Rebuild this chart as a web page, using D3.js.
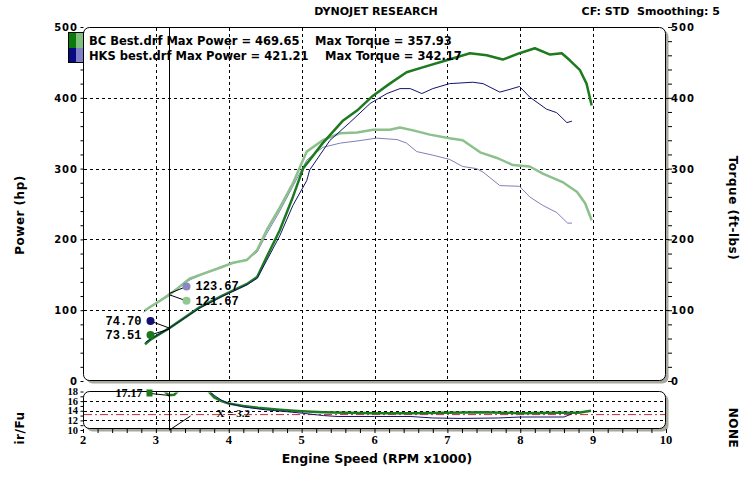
<!DOCTYPE html>
<html lang="en">
<head>
<meta charset="UTF-8">
<title>Dynojet</title>
<script src="https://cdn.jsdelivr.net/npm/d3@7"></script>
<style>
  body { margin: 0; background: #fff; font-family: "DejaVu Sans", Verdana, sans-serif; }
  svg { display: block; }
</style>
</head>
<body>
<div id="chart"></div>
<script>
// ---- data (rpm x1000, hp / ft-lbs / afr) ----
const bcPowerRpm = [2.85, 2.92, 3.19, 3.60, 3.92, 4.25, 4.39, 4.52, 4.70, 4.88, 5.02, 5.29, 5.57, 5.76, 5.98, 6.21, 6.44, 6.66, 6.99, 7.31, 7.54, 7.76, 7.99, 8.20, 8.41, 8.57, 8.68, 8.82, 8.91, 8.98];
const bcPower    = [52, 58, 75, 104, 121, 137, 147, 175, 213, 260, 300, 336, 368, 382, 403, 420, 436, 443, 453, 463, 460, 454, 463, 470, 461, 463, 453, 439, 420, 389];

const bcTorqueRpm = [2.85, 3.19, 3.47, 3.88, 4.06, 4.25, 4.39, 4.52, 4.70, 4.88, 5.07, 5.29, 5.53, 5.76, 5.98, 6.21, 6.35, 6.53, 6.76, 7.03, 7.21, 7.31, 7.45, 7.68, 7.90, 8.13, 8.31, 8.58, 8.78, 8.89, 8.98];
const bcTorque    = [100, 122, 145, 160, 167, 171, 185, 213, 245, 279, 324, 340, 350, 351, 355, 355, 358, 354, 348, 343, 340, 333, 323, 315, 305, 303, 293, 281, 267, 251, 227];

const hksPowerRpm = [2.86, 3.19, 3.60, 3.92, 4.25, 4.39, 4.52, 4.70, 4.88, 5.07, 5.11, 5.39, 5.66, 5.94, 6.17, 6.35, 6.49, 6.65, 6.80, 7.03, 7.35, 7.49, 7.72, 7.86, 7.99, 8.13, 8.36, 8.50, 8.64, 8.71];
const hksPower    = [55, 75, 103, 120, 136, 145, 170, 205, 248, 283, 298, 340, 365, 392, 406, 413, 413, 406, 413, 420, 422, 420, 408, 412, 416, 401, 384, 379, 365, 367];

const hksTorqueRpm = [2.83, 3.19, 3.47, 3.88, 4.25, 4.39, 4.52, 4.70, 4.88, 5.07, 5.29, 5.53, 5.76, 6.03, 6.31, 6.44, 6.58, 6.80, 7.03, 7.21, 7.40, 7.49, 7.72, 7.99, 8.13, 8.31, 8.50, 8.65, 8.71];
const hksTorque    = [97, 124, 143, 161, 172, 182, 208, 240, 275, 312, 330, 336, 339, 343, 341, 336, 324, 319, 313, 303, 300, 295, 276, 275, 260, 248, 238, 223, 223];

const bcAfrRpm = [2.88, 3.10, 3.18, 3.25, 3.32, 3.70, 3.80, 3.90, 4.00, 4.20, 4.40, 4.70, 5.00, 5.30, 5.60, 6.00, 6.50, 7.00, 7.50, 8.00, 8.50, 8.80, 8.97];
const bcAfr    = [18.4, 18.3, 17.2, 17.3, 18.3, 18.4, 16.8, 16.0, 15.5, 15.0, 14.6, 14.2, 13.9, 13.7, 13.6, 13.5, 13.5, 13.6, 13.7, 13.5, 13.6, 13.6, 14.0];

const hksAfrRpm = [2.88, 3.70, 3.80, 3.90, 4.00, 4.20, 4.50, 4.80, 5.00, 5.30, 5.50, 6.00, 6.50, 6.80, 7.20, 7.70, 8.00, 8.60, 8.70];
const hksAfr    = [18.5, 18.5, 17.2, 16.2, 15.5, 14.8, 14.2, 13.8, 13.5, 13.0, 12.8, 12.8, 12.8, 12.5, 12.4, 12.5, 12.7, 12.7, 13.3];

const xTicks = [2, 3, 4, 5, 6, 7, 8, 9, 10];
const yTicks = [0, 100, 200, 300, 400, 500];
const afrTicks = [10, 12, 14, 16, 18];
const afrTarget = 13.2;
const cursorRpm = 3.18;
const cursorVals = { bcPower: 73.51, hksPower: 74.70, bcTorque: 121.67, hksTorque: 123.67, bcAfr: 17.17 };

const colors = { bcPower: "#1e7a1e", bcTorque: "#8cc08c", hksPower: "#14146e", hksTorque: "#8080b8" };

// ---- layout ----
const W = 754, H = 502;
const svg = d3.select("#chart").append("svg").attr("width", W).attr("height", H);

const x = d3.scaleLinear().domain([2, 10]).range([83, 666]);
const y = d3.scaleLinear().domain([0, 500]).range([381, 27]);
const ya = d3.scaleLinear().domain([10, 18]).range([430, 391.5]);

const shadow = "#a8a89e";
const monoBold = "'Liberation Mono', monospace";
const serifBold = "'Liberation Serif', 'Times New Roman', serif";

// header
svg.append("text").attr("x", 376).attr("y", 15).attr("text-anchor", "middle")
  .attr("font-size", 11).attr("font-weight", "bold").text("DYNOJET RESEARCH");
svg.append("text").attr("x", 720).attr("y", 15).attr("text-anchor", "end")
  .attr("font-size", 11).attr("font-weight", "bold").attr("xml:space", "preserve")
  .text("CF: STD  Smoothing: 5");

// boxes with shadow
function panel(x0, y0, x1, y1) {
  svg.append("rect").attr("x", x0 + 3).attr("y", y0 + 3).attr("width", x1 - x0).attr("height", y1 - y0)
    .attr("rx", 6).attr("fill", shadow);
  svg.append("rect").attr("x", x0).attr("y", y0).attr("width", x1 - x0).attr("height", y1 - y0)
    .attr("rx", 6).attr("fill", "#fff").attr("stroke", "#000").attr("stroke-width", 1);
}
panel(83.5, 27.5, 665.5, 380.5);
panel(83.5, 391.5, 665.5, 428.5);

// clip paths
const defs = svg.append("defs");
defs.append("clipPath").attr("id", "clipMain").append("rect")
  .attr("x", 84).attr("y", 28).attr("width", 581).attr("height", 352);
defs.append("clipPath").attr("id", "clipAfr").append("rect")
  .attr("x", 84).attr("y", 392.5).attr("width", 581).attr("height", 35.5);

// grid
const grid = svg.append("g").attr("stroke", "#000").attr("stroke-dasharray", "3,3").attr("stroke-width", 1);
xTicks.slice(1, -1).forEach(t => {
  grid.append("line").attr("x1", Math.round(x(t)) + 0.5).attr("x2", Math.round(x(t)) + 0.5)
    .attr("y1", 28).attr("y2", 380);
  grid.append("line").attr("x1", Math.round(x(t)) + 0.5).attr("x2", Math.round(x(t)) + 0.5)
    .attr("y1", 392).attr("y2", 428);
});
yTicks.slice(1, -1).forEach(t => {
  grid.append("line").attr("y1", Math.round(y(t)) + 0.5).attr("y2", Math.round(y(t)) + 0.5)
    .attr("x1", 84).attr("x2", 671);
});
[12, 14, 16].forEach(t => {
  grid.append("line").attr("y1", Math.round(ya(t)) + 0.5).attr("y2", Math.round(ya(t)) + 0.5)
    .attr("x1", 84).attr("x2", 665);
});

// left / right axes (hp / ft-lbs)
const leftAxis = d3.axisLeft(y).tickValues(d3.range(0, 501, 20)).tickSize(3).tickFormat("");
svg.append("g").attr("transform", "translate(83.5,0)").call(leftAxis)
  .call(g => g.select(".domain").remove());
const rightAxis = d3.axisRight(y).tickValues(d3.range(0, 501, 20)).tickSize(4).tickFormat("");
svg.append("g").attr("transform", "translate(668,0)").call(rightAxis)
  .call(g => g.select(".domain").remove());

svg.append("g").selectAll("text").data(yTicks).join("text")
  .attr("x", 78).attr("y", d => y(d) + 4).attr("text-anchor", "end")
  .attr("font-size", 10).attr("font-weight", "bold").attr("letter-spacing", 1).text(d => d);
svg.append("g").selectAll("text").data(yTicks).join("text")
  .attr("x", 671).attr("y", d => y(d) + 4).attr("text-anchor", "start")
  .attr("font-size", 10).attr("font-weight", "bold").attr("letter-spacing", 1).text(d => d);

// afr axis
const afrAxis = d3.axisLeft(ya).tickValues(d3.range(10, 18.1, 1)).tickSize(3).tickFormat("");
svg.append("g").attr("transform", "translate(83.5,0)").call(afrAxis)
  .call(g => g.select(".domain").remove());
svg.append("g").selectAll("text").data(afrTicks).join("text")
  .attr("x", 78).attr("y", d => ya(d) + 3.5).attr("text-anchor", "end")
  .attr("font-family", serifBold).attr("font-size", 10.5).attr("font-weight", "bold").text(d => d);

// bottom rpm axis
const bottomAxis = d3.axisBottom(x).tickValues(d3.range(2, 10.01, 0.2)).tickSize(4).tickFormat("");
svg.append("g").attr("transform", "translate(0,429)").call(bottomAxis)
  .call(g => g.select(".domain").remove());
svg.append("g").selectAll("text").data(xTicks).join("text")
  .attr("x", d => x(d)).attr("y", 444).attr("text-anchor", "middle")
  .attr("font-family", serifBold).attr("font-size", 12.5).attr("font-weight", "bold").text(d => d);

// axis titles
svg.append("text").attr("transform", "translate(24,215) rotate(-90)").attr("text-anchor", "middle")
  .attr("font-size", 12).attr("font-weight", "bold").attr("letter-spacing", 0.5).text("Power (hp)");
svg.append("text").attr("transform", "translate(729,208) rotate(90)").attr("text-anchor", "middle")
  .attr("font-size", 12).attr("font-weight", "bold").attr("letter-spacing", 0.5).text("Torque (ft-lbs)");
svg.append("text").attr("transform", "translate(24,428) rotate(-90)").attr("text-anchor", "middle")
  .attr("font-size", 12).attr("font-weight", "bold").attr("letter-spacing", 0.5).text("ir/Fu");
svg.append("text").attr("transform", "translate(729,428) rotate(90)").attr("text-anchor", "middle")
  .attr("font-size", 12).attr("font-weight", "bold").attr("letter-spacing", 0.5).text("NONE");
svg.append("text").attr("x", 377).attr("y", 463).attr("text-anchor", "middle")
  .attr("font-size", 12.5).attr("font-weight", "bold").text("Engine Speed (RPM x1000)");

// afr target line
svg.append("line").attr("x1", 84).attr("x2", 665).attr("y1", ya(afrTarget)).attr("y2", ya(afrTarget))
  .attr("stroke", "#c0303a").attr("stroke-width", 1).attr("stroke-dasharray", "8,3,2,3");

// curves
const line = d3.line().x(d => x(d[0])).y(d => y(d[1]));
const lineA = d3.line().x(d => x(d[0])).y(d => ya(d[1]));
const main = svg.append("g").attr("clip-path", "url(#clipMain)");
const afr = svg.append("g").attr("clip-path", "url(#clipAfr)");

function curve(g, gen, xs, ys, color, w) {
  g.append("path").datum(d3.zip(xs, ys)).attr("d", gen).attr("fill", "none")
    .attr("stroke", color).attr("stroke-width", w).attr("stroke-linejoin", "round");
}
curve(main, line, hksTorqueRpm, hksTorque, colors.hksTorque, 1);
curve(main, line, bcTorqueRpm, bcTorque, colors.bcTorque, 2.5);
curve(main, line, bcPowerRpm, bcPower, colors.bcPower, 2.5);
curve(main, line, hksPowerRpm, hksPower, colors.hksPower, 1);
curve(afr, lineA, bcAfrRpm, bcAfr, colors.bcPower, 2.5);
curve(afr, lineA, hksAfrRpm, hksAfr, colors.hksPower, 1);

// cursor line
const cx = Math.round(x(cursorRpm)) + 0.5;
svg.append("line").attr("x1", cx).attr("x2", cx).attr("y1", 28).attr("y2", 380).attr("stroke", "#000");
svg.append("line").attr("x1", cx).attr("x2", cx).attr("y1", 392).attr("y2", 430).attr("stroke", "#000");

// cursor readouts
const ann = svg.append("g");
function readout(val, dy, dx, color, labelSide) {
  const py = y(val), my = py + dy, mx = cx + dx;
  ann.append("line").attr("x1", cx).attr("y1", py).attr("x2", mx).attr("y2", my).attr("stroke", "#000");
  ann.append("circle").attr("cx", mx).attr("cy", my).attr("r", 4).attr("fill", color);
  ann.append("text").attr("x", labelSide > 0 ? mx + 9 : mx - 9).attr("y", my + 4)
    .attr("text-anchor", labelSide > 0 ? "start" : "end")
    .attr("font-family", monoBold).attr("font-size", 12).attr("font-weight", "bold")
    .text(val.toFixed(2));
}
readout(cursorVals.hksPower, -7, -19, "#101070", -1);
readout(cursorVals.bcPower, 6, -19, "#1a7a1a", -1);
readout(cursorVals.hksTorque, -7, 17, "#8888c4", 1);
readout(cursorVals.bcTorque, 6, 17, "#90c890", 1);

// afr readout
const ay = ya(cursorVals.bcAfr);
ann.append("line").attr("x1", cx).attr("y1", ay).attr("x2", cx - 19).attr("y2", ay - 2).attr("stroke", "#000");
ann.append("rect").attr("x", cx - 23).attr("y", ay - 6).attr("width", 6).attr("height", 7).attr("fill", "#1a7a1a");
ann.append("text").attr("x", cx - 27).attr("y", ay + 2).attr("text-anchor", "end")
  .attr("font-family", serifBold).attr("font-size", 12).attr("font-weight", "bold").text(cursorVals.bcAfr.toFixed(2));
ann.append("line").attr("x1", cx).attr("y1", 430).attr("x2", cx + 21).attr("y2", 416).attr("stroke", "#000");
ann.append("text").attr("x", cx + 47).attr("y", 417).attr("text-anchor", "start")
  .attr("font-family", serifBold).attr("font-size", 11).attr("font-weight", "bold")
  .text("X = " + cursorRpm.toFixed(1));

// legend
const legendRows = [
  { name: "BC Best.drf", power: 469.65, torque: 357.93, dark: "#0a7a0a", light: "#80c080", tx: 315 },
  { name: "HKS best.drf", power: 421.21, torque: 342.17, dark: "#0a0a80", light: "#8080c8", tx: 325 }
];
const lg = svg.append("g");
legendRows.forEach((r, i) => {
  const ry = 33 + i * 15;
  lg.append("rect").attr("x", 69).attr("y", ry).attr("width", 7).attr("height", 15).attr("fill", r.dark);
  lg.append("rect").attr("x", 76).attr("y", ry).attr("width", 7).attr("height", 15).attr("fill", r.light);
  lg.append("text").attr("x", 89).attr("y", ry + 12).attr("font-size", 11.5).attr("font-weight", "bold")
    .text(r.name + " Max Power = " + r.power.toFixed(2));
  lg.append("text").attr("x", r.tx).attr("y", ry + 12).attr("font-size", 11.5).attr("font-weight", "bold")
    .text("Max Torque = " + r.torque.toFixed(2));
});
lg.append("rect").attr("x", 68.5).attr("y", 32.5).attr("width", 15).attr("height", 30)
  .attr("fill", "none").attr("stroke", "#000");
</script>
</body>
</html>
